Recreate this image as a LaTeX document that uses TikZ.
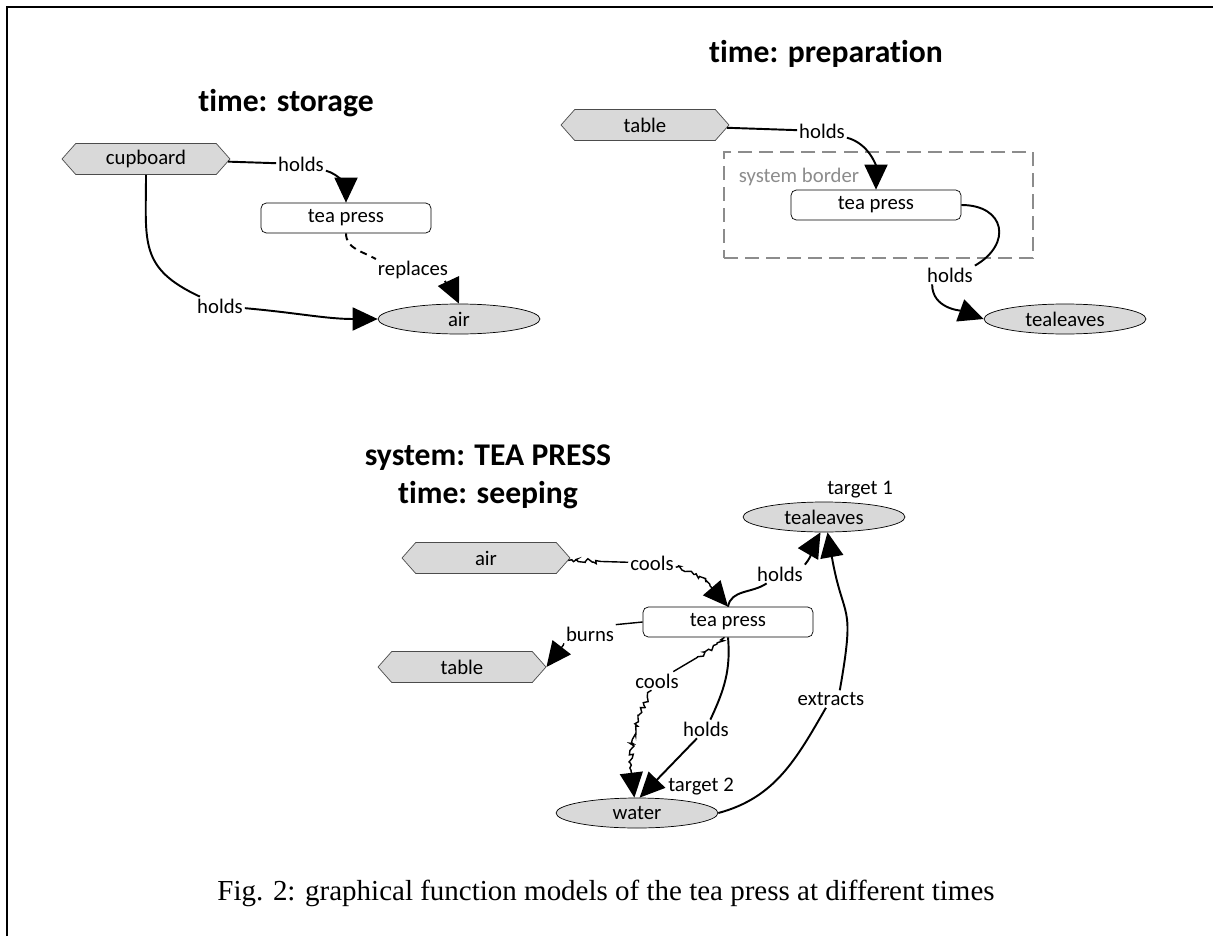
\documentclass[tikz,border=0pt]{standalone}
\usepackage{fontspec}
\setmainfont{Carlito}[Ligatures=NoCommon]
\newfontfamily\capfont{Liberation Serif}
\usetikzlibrary{arrows.meta,shapes.geometric,shapes.symbols,decorations.pathmorphing}
\definecolor{envgray}{HTML}{D9D9D9}
\definecolor{bordergray}{HTML}{8C8C8C}

\begin{document}
\begin{tikzpicture}[x=0.02cm, y=-0.02cm,
  every node/.style={font=\fontsize{11.8}{14}\selectfont},
  ext/.style={signal, signal to=west and east, signal pointer angle=97,
              draw=black!70, fill=envgray, minimum width=3.36cm,
              minimum height=0.62cm, inner sep=0pt},
  obj/.style={ellipse, draw, fill=envgray, minimum width=3.24cm,
              minimum height=0.6cm, inner sep=0pt},
  sys/.style={draw, rounded corners=3pt, fill=white, minimum width=3.4cm,
              minimum height=0.6cm, inner sep=0pt},
  lbl/.style={fill=white, inner sep=1pt},
  ttl/.style={font=\fontsize{18}{21.5}\selectfont\bfseries, align=center},
  edge/.style={line width=1.1pt},
  wavy/.style={line width=0.8pt, decorate,
               decoration={random steps, segment length=1.4pt, amplitude=1.4pt,
                           post length=0.55cm}},
  tip/.style={-{Triangle[length=0.5cm, width=0.46cm]}},
]
  \useasboundingbox (0,0) rectangle (1213,936);
  \draw[line width=1.3pt] (7,936) -- (7,7) -- (1213,7);

  % Storage
  \node[ttl] (tS) at (286,103) {time: storage};
  \node[ext] (cupS) at (146,159) {cupboard};
  \node[sys] (tpS)  at (346,218) {tea press};
  \node[obj] (airS) at (459,319) {air};
  \node[lbl] (hS1) at (301,164) {holds};
  \node[lbl] (hS2) at (220,306) {holds};
  \node[lbl] (rS)  at (413,270) {replaces};

  \draw[edge] (cupS) -- (hS1);
  \draw[edge, tip] (hS1) to[out=-15, in=90] (tpS.north);
  \draw[edge] (cupS.south) to[out=-90, in=155, looseness=1.3] (hS2);
  \draw[edge, tip] (hS2) to[out=-5, in=180] (airS.west);
  \draw[edge, dash pattern=on 4pt off 3pt] (tpS.south) to[out=-90, in=150] (rS.north west);
  \draw[edge, dash pattern=on 4pt off 3pt, tip] ([xshift=-3pt]rS.south east) to[out=-60, in=115] (airS.north);

  % Preparation
  \node[ttl] (tP) at (826,54) {time: preparation};
  \node[ext] (tblP) at (645,125) {table};
  \node[draw=bordergray, line width=1.5pt, dash pattern=on 8pt off 4pt,
        minimum width=6.18cm, minimum height=2.12cm] (sbP) at (878.5,205) {};
  \node[text=bordergray] (sbl) at (799,177) {system border};
  \node[sys] (tpP)   at (876,205)  {tea press};
  \node[obj] (leafP) at (1065,319) {tealeaves};
  \node[lbl] (hP1) at (822,131) {holds};
  \node[lbl] (hP2) at (950,275) {holds};

  \draw[edge] (tblP) -- (hP1);
  \draw[edge, tip] (hP1) to[out=-15, in=90] (tpP.north);
  \draw[edge] (tpP.east) to[out=0, in=30, looseness=1.8] (hP2.north east);
  \draw[edge, tip] ([xshift=4pt]hP2.south west) to[out=-90, in=160] (leafP.west);

  % Seeping
  \node[ttl] (tT) at (488,477) {system: TEA PRESS\\time: seeping};
  \node[ext] (airT)   at (486,558) {air};
  \node[ext] (tblT)   at (462,667) {table};
  \node[sys] (tpT)    at (728,622) {tea press};
  \node[obj] (leafT)  at (824,517) {tealeaves};
  \node[obj] (waterT) at (637,813) {water};
  \node (tg1) at (860,490) {target 1};
  \node (tg2) at (701,787) {target 2};
  \node[lbl] (cT1) at (652,563) {cools};
  \node[lbl] (hT1) at (780,574) {holds};
  \node[lbl] (bT)  at (590,634) {burns};
  \node[lbl] (cT2) at (657,681) {cools};
  \node[lbl] (hT2) at (706,729) {holds};
  \node[lbl] (eT)  at (831,699) {extracts};

  \draw[wavy] (airT) -- (cT1);
  \draw[wavy, tip] (cT1) to[out=-10, in=130] (tpT.north);
  \draw[edge] (tpT.north) to[out=80, in=-145] (hT1);
  \draw[edge, tip] (hT1.north east) to[out=50, in=-120] ([xshift=-2pt]leafT.south);
  \draw[edge] (waterT.east) to[out=15, in=-120] (eT);
  \draw[edge, tip] ([xshift=5pt]eT.north) to[out=80, in=-80, looseness=1.5] ([xshift=2pt]leafT.south);
  \draw[edge] (tpT.south) to[out=-85, in=65] (hT2);
  \draw[edge, tip] (hT2) -- ([xshift=1.5pt]waterT.north);
  \draw[wavy] ([xshift=-2pt]tpT.south) to[out=-140, in=30] (cT2);
  \draw[wavy, tip] (cT2) to[out=-120, in=100] ([xshift=-1.5pt]waterT.north);
  \draw[wavy] (tpT) to[out=180, in=20] (bT);
  \draw[wavy, tip] (bT.south west) to[out=-110, in=50] (tblT.east);

  % Caption
  \node[font=\capfont\fontsize{16.5}{19}\selectfont] (cap) at (606,893)
    {Fig. 2: graphical function models of the tea press at different times};
\end{tikzpicture}
\end{document}
